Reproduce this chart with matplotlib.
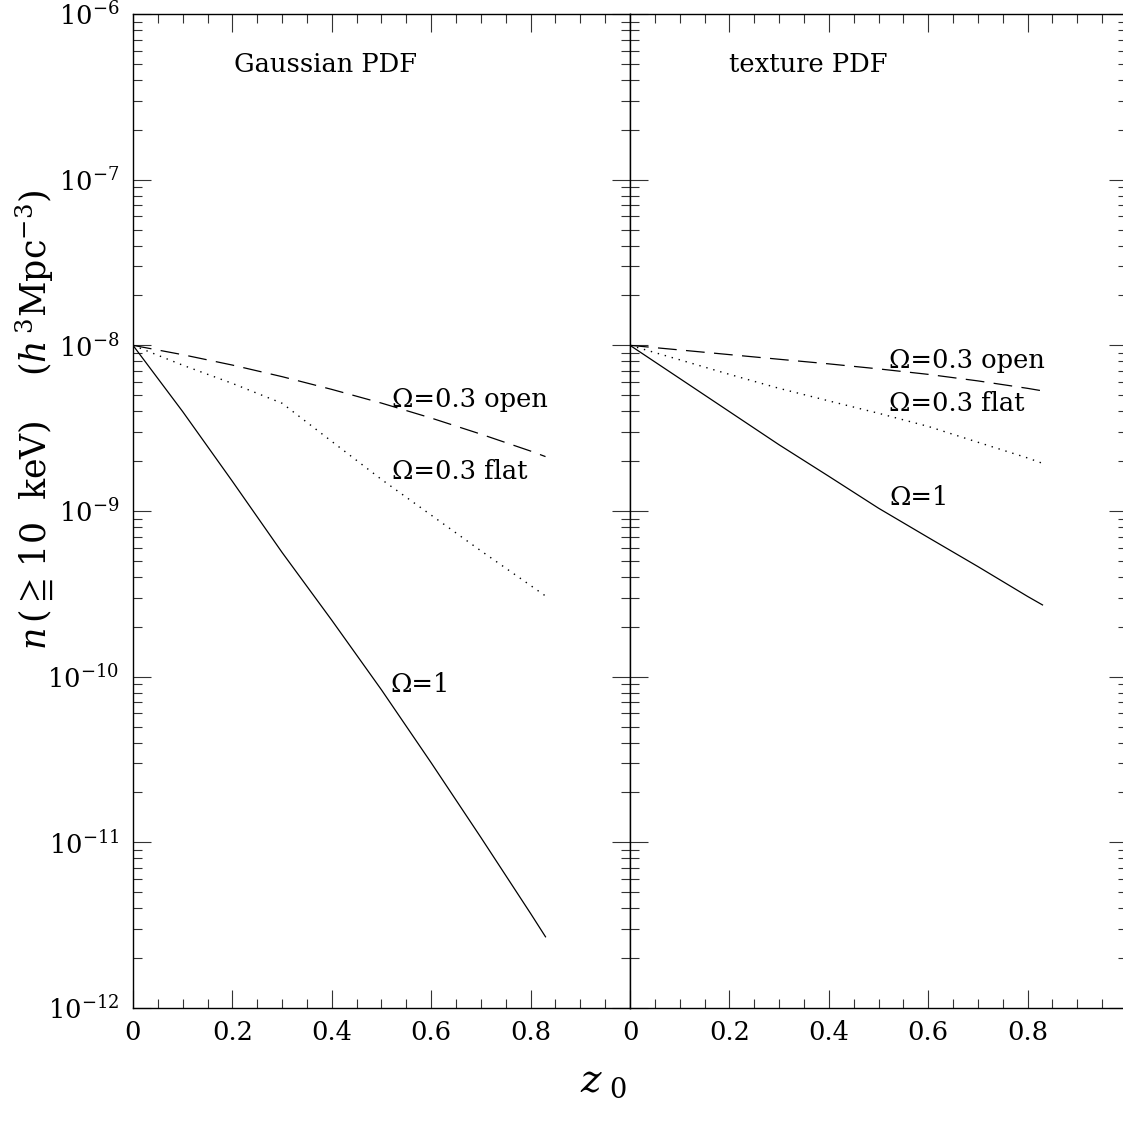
import numpy as np
import matplotlib.pyplot as plt
from matplotlib.ticker import LogLocator, NullFormatter

plt.rcParams["font.family"] = "DejaVu Serif"
plt.rcParams["mathtext.fontset"] = "dejavuserif"

# cluster abundance n(>=10 keV) vs. redshift z0, in h^3 Mpc^-3
z0 = [0.0, 0.1, 0.2, 0.3, 0.4, 0.5, 0.6, 0.7, 0.8, 0.83]

gauss_omega1 = [1.0e-8, 3.98e-9, 1.51e-9, 5.62e-10, 2.19e-10,
                8.32e-11, 3.02e-11, 1.07e-11, 3.72e-12, 2.69e-12]
gauss_flat = [1.0e-8, 7.59e-9, 5.89e-9, 4.47e-9, 2.63e-9,
              1.55e-9, 9.44e-10, 5.75e-10, 3.55e-10, 3.07e-10]
gauss_open = [1.0e-8, 8.78e-9, 7.60e-9, 6.47e-9, 5.42e-9,
              4.48e-9, 3.64e-9, 2.91e-9, 2.30e-9, 2.13e-9]

tex_omega1 = [1.0e-8, 6.31e-9, 3.98e-9, 2.51e-9, 1.62e-9,
              1.04e-9, 6.92e-10, 4.62e-10, 3.05e-10, 2.71e-10]
tex_flat = [1.0e-8, 8.18e-9, 6.68e-9, 5.50e-9, 4.62e-9,
            3.89e-9, 3.24e-9, 2.60e-9, 2.09e-9, 1.94e-9]
tex_open = [1.0e-8, 9.38e-9, 8.79e-9, 8.24e-9, 7.73e-9,
            7.21e-9, 6.68e-9, 6.10e-9, 5.50e-9, 5.31e-9]

x_ticks = [0, 0.2, 0.4, 0.6, 0.8]
x_ticklabels = ["0", "0.2", "0.4", "0.6", "0.8"]
x_minor = [0.05, 0.1, 0.15, 0.25, 0.3, 0.35, 0.45, 0.5, 0.55,
           0.65, 0.7, 0.75, 0.85, 0.9, 0.95]
y_ticks = [1e-12, 1e-11, 1e-10, 1e-9, 1e-8, 1e-7, 1e-6]

panels = [
    ("Gaussian PDF", gauss_omega1, gauss_flat, gauss_open,
     {"title": (0.203, 0.949),
      "open": (0.521, 0.612), "flat": (0.521, 0.540), "one": (0.517, 0.325)}),
    ("texture PDF", tex_omega1, tex_flat, tex_open,
     {"title": (0.199, 0.949),
      "open": (0.521, 0.651), "flat": (0.521, 0.608), "one": (0.521, 0.514)}),
]

W, H = 1123, 1121
fig = plt.figure(figsize=(W / 100, H / 100), dpi=100)

ax_w = 497 / W
ax_h = 994 / H
ax_b = (H - 1008) / H
lefts = [133 / W, 630 / W]

TXT = 18.5
for i, (title, omega1, flat, opn, pos) in enumerate(panels):
    ax = fig.add_axes([lefts[i], ax_b, ax_w, ax_h])
    ax.set_yscale("log")
    ax.set_xlim(0, 1)
    ax.set_ylim(1e-12, 1e-6)

    ax.plot(z0, omega1, color="black", lw=0.9)
    ax.plot(z0, flat, color="black", lw=1.0, linestyle=(0, (1.0, 4.2)))
    ax.plot(z0, opn, color="black", lw=0.9, linestyle=(0, (15, 7.5)))

    ax.set_xticks(x_ticks)
    ax.set_xticklabels(x_ticklabels)
    ax.set_xticks(x_minor, minor=True)
    ax.set_yticks(y_ticks)
    ax.yaxis.set_minor_locator(LogLocator(base=10, subs=np.arange(2, 10), numticks=20))
    ax.yaxis.set_minor_formatter(NullFormatter())

    ax.tick_params(which="both", direction="in", top=True, right=True,
                   width=0.8, color="#333333")
    ax.tick_params(which="major", length=13)
    ax.tick_params(which="minor", length=6.5)
    ax.tick_params(axis="x", labelsize=TXT, pad=9)
    ax.tick_params(axis="y", labelsize=TXT, pad=10)
    if i == 1:
        ax.tick_params(axis="y", labelleft=False)
    for sp in ax.spines.values():
        sp.set_linewidth(1.0)

    ax.text(*pos["title"], title, transform=ax.transAxes,
            fontsize=TXT, ha="left", va="center")
    ax.text(*pos["open"], "Ω=0.3 open", transform=ax.transAxes,
            fontsize=TXT, ha="left", va="center")
    ax.text(*pos["flat"], "Ω=0.3 flat", transform=ax.transAxes,
            fontsize=TXT, ha="left", va="center")
    ax.text(*pos["one"], "Ω=1", transform=ax.transAxes,
            fontsize=TXT, ha="left", va="center")

fig.text(34 / W, 1 - 420 / H,
         r"$n\,(\geqq\,10\ \ \mathrm{keV})\ \ \ \ (h^{\,3}\mathrm{Mpc}^{-3})$",
         rotation=90, ha="center", va="center", fontsize=25)
fig.text(603 / W, 1 - 1082 / H, r"$z_{\ 0}$", ha="center", va="center",
         fontsize=28)

fig.savefig("out.png", dpi=100)
